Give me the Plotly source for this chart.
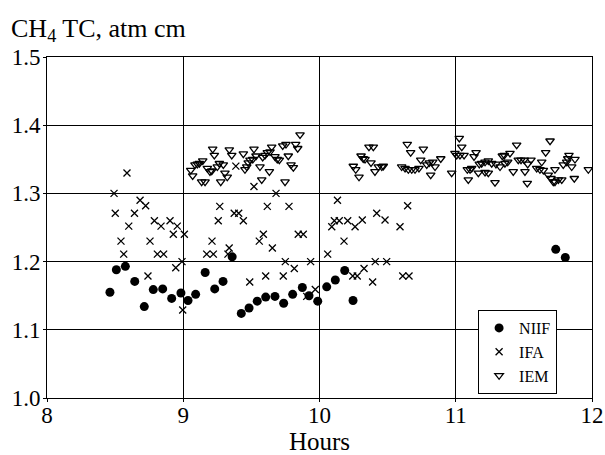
import plotly.graph_objects as go

# NIIF (filled circles)
niif_x = [8.462, 8.509, 8.575, 8.644, 8.714, 8.780, 8.849, 8.915, 8.983, 9.035,
          9.091, 9.161, 9.231, 9.292, 9.359, 9.426, 9.483, 9.543, 9.605, 9.673,
          9.737, 9.803, 9.874, 9.923, 9.987, 10.053, 10.116, 10.185, 10.246,
          11.734, 11.804]
niif_y = [1.155, 1.188, 1.193, 1.171, 1.134, 1.159, 1.160, 1.146, 1.154, 1.143,
          1.152, 1.184, 1.160, 1.171, 1.207, 1.124, 1.132, 1.142, 1.148, 1.149,
          1.139, 1.152, 1.162, 1.150, 1.142, 1.163, 1.173, 1.187, 1.143,
          1.218, 1.206]

# IFA (crosses)
ifa_x = [8.587, 8.492, 8.501, 8.642, 8.683, 8.724, 8.600, 8.788, 8.837, 8.903,
         8.956, 8.543, 8.563, 8.756, 8.927, 9.008, 8.810, 8.856, 8.991, 8.945,
         8.741, 8.996, 9.268, 9.257, 9.374, 9.407, 9.441, 9.211, 9.172, 9.221,
         9.337, 9.328, 9.386, 9.519, 9.681, 9.617, 9.776, 9.588, 9.558, 9.654,
         9.844, 9.881, 9.749, 9.935, 9.815, 9.605, 9.734, 9.488, 9.969, 9.906,
         10.060, 10.132, 10.109, 10.090, 10.145, 10.180, 10.207, 10.261, 10.314,
         10.420, 10.409, 10.327, 10.244, 10.277, 10.390, 10.647, 10.481, 10.591,
         10.493, 10.611, 10.657]
ifa_y = [1.330, 1.300, 1.271, 1.271, 1.290, 1.282, 1.252, 1.260, 1.252, 1.260,
         1.252, 1.230, 1.211, 1.230, 1.240, 1.240, 1.211, 1.211, 1.200, 1.191,
         1.179, 1.129, 1.281, 1.260, 1.271, 1.271, 1.260, 1.230, 1.211, 1.211,
         1.220, 1.211, 1.340, 1.310, 1.300, 1.281, 1.281, 1.240, 1.230, 1.220,
         1.240, 1.240, 1.200, 1.200, 1.190, 1.179, 1.179, 1.170, 1.159, 1.149,
         1.211, 1.290, 1.260, 1.251, 1.260, 1.230, 1.260, 1.251, 1.261,
         1.271, 1.200, 1.190, 1.179, 1.179, 1.170, 1.282, 1.261, 1.251,
         1.200, 1.179, 1.179]

# IEM (open down-triangles)
iem_x = [9.055, 9.069, 9.086, 9.103, 9.118, 9.143, 9.135, 9.160, 9.177, 9.196,
         9.209, 9.216, 9.228, 9.250, 9.265, 9.294, 9.275, 9.306, 9.323, 9.338,
         9.356, 9.441, 9.453, 9.466, 9.477, 9.490, 9.510, 9.519, 9.534, 9.563,
         9.583, 9.600, 9.617, 9.637, 9.649, 9.632, 9.576, 9.673, 9.690, 9.705,
         9.730, 9.754, 9.747, 9.771, 9.857, 9.825, 9.840, 9.791, 9.808,
         10.248, 10.266, 10.290, 10.305, 10.321, 10.334, 10.363, 10.395, 10.378,
         10.407, 10.432, 10.457, 10.468,
         10.644, 10.669, 10.762, 10.743, 10.603, 10.628, 10.652, 10.677, 10.701,
         10.730, 10.787, 10.806, 10.831, 10.848, 10.890, 10.816, 10.970, 10.994,
         11.026, 11.044, 11.007, 11.031, 11.061, 11.085, 11.105, 11.117, 11.149,
         11.134, 11.092, 11.173, 11.190, 11.215, 11.239, 11.264, 11.166, 11.215,
         11.239, 11.288, 11.295,
         11.447, 11.398, 11.356, 11.342, 11.325, 11.361, 11.381, 11.422, 11.459,
         11.479, 11.503, 11.528, 11.552, 11.508, 11.525, 11.631, 11.594, 11.618,
         11.643, 11.660, 11.692, 11.679, 11.699, 11.716, 11.728, 11.753, 11.778,
         11.728, 11.789, 11.814, 11.831, 11.822, 11.875, 11.851, 11.870, 11.973]
iem_y = [1.334, 1.326, 1.342, 1.343, 1.344, 1.348, 1.317, 1.317, 1.337, 1.332,
         1.333, 1.365, 1.356, 1.339, 1.344, 1.342, 1.317, 1.330, 1.324, 1.364,
         1.356, 1.358, 1.335, 1.339, 1.345, 1.349, 1.350, 1.365, 1.355, 1.339,
         1.353, 1.356, 1.360, 1.361, 1.368, 1.332, 1.320, 1.354, 1.350, 1.349,
         1.370, 1.372, 1.317, 1.355, 1.386, 1.372, 1.366, 1.342, 1.338,
         1.340, 1.335, 1.324, 1.355, 1.351, 1.350, 1.368, 1.368, 1.345,
         1.332, 1.339, 1.339, 1.340,
         1.372, 1.360, 1.365, 1.349, 1.339, 1.337, 1.335, 1.335, 1.335,
         1.337, 1.342, 1.345, 1.346, 1.339, 1.351, 1.327, 1.330, 1.359,
         1.381, 1.368, 1.356, 1.356, 1.356, 1.335, 1.335, 1.337, 1.360,
         1.354, 1.320, 1.343, 1.344, 1.346, 1.348, 1.344, 1.330, 1.331,
         1.330, 1.316, 1.343,
         1.371, 1.359, 1.356, 1.355, 1.339, 1.344, 1.346, 1.332, 1.349,
         1.349, 1.349, 1.343, 1.349, 1.332, 1.315, 1.346, 1.337, 1.335,
         1.334, 1.360, 1.377, 1.327, 1.322, 1.317, 1.317, 1.320, 1.320,
         1.335, 1.342, 1.346, 1.356, 1.351, 1.350, 1.339, 1.322, 1.335]

x_ticks = [8, 9, 10, 11, 12]
y_ticks = [1.0, 1.1, 1.2, 1.3, 1.4, 1.5]
y_tick_labels = ["1.0", "1.1", "1.2", "1.3", "1.4", "1.5"]

FONT = "Liberation Serif"

fig = go.Figure()
fig.add_trace(go.Scatter(
    x=niif_x, y=niif_y, mode="markers", name="NIIF",
    marker=dict(symbol="circle", size=9, color="black"),
))
fig.add_trace(go.Scatter(
    x=ifa_x, y=ifa_y, mode="markers", name="IFA",
    marker=dict(symbol="x-thin", size=7, color="black",
                line=dict(width=1.3, color="black")),
))
fig.add_trace(go.Scatter(
    x=iem_x, y=iem_y, mode="markers", name="IEM",
    marker=dict(symbol="triangle-down-open", size=7.5, color="black",
                line=dict(width=1.3, color="black")),
))

axis_common = dict(
    showgrid=True, gridcolor="black", gridwidth=1,
    showline=True, linecolor="black", linewidth=1, mirror=True,
    ticks="outside", ticklen=3, tickcolor="black",
    zeroline=False, automargin=False,
    tickfont=dict(family=FONT, size=23, color="black"),
)

fig.update_xaxes(range=[8, 12], tickvals=x_ticks, ticklabelstandoff=-7,
                 title=dict(text="Hours", font=dict(family=FONT, size=25, color="black"),
                            standoff=6),
                 **axis_common)
fig.update_yaxes(range=[1.0, 1.5], tickvals=y_ticks, ticktext=y_tick_labels,
                 ticklabelstandoff=-2,
                 **axis_common)

fig.add_annotation(
    text="CH<sub>4</sub> TC, atm cm", xref="paper", yref="paper",
    x=-0.07, y=1.078, xanchor="left", yanchor="middle", showarrow=False,
    font=dict(family=FONT, size=26, color="black"),
)

fig.update_layout(
    width=605, height=455,
    margin=dict(l=47, r=13, t=57, b=57),
    paper_bgcolor="white", plot_bgcolor="white",
    font=dict(family=FONT, color="black"),
    showlegend=True,
    legend=dict(
        x=0.791, y=0.258, xanchor="left", yanchor="top",
        bgcolor="white", bordercolor="black", borderwidth=1,
        font=dict(family=FONT, size=16, color="black"),
        itemwidth=30, tracegroupgap=0,
    ),
)

fig.write_html("out.html", config={"displayModeBar": False},
               post_script="document.body.style.margin='0';document.body.style.padding='0';")
